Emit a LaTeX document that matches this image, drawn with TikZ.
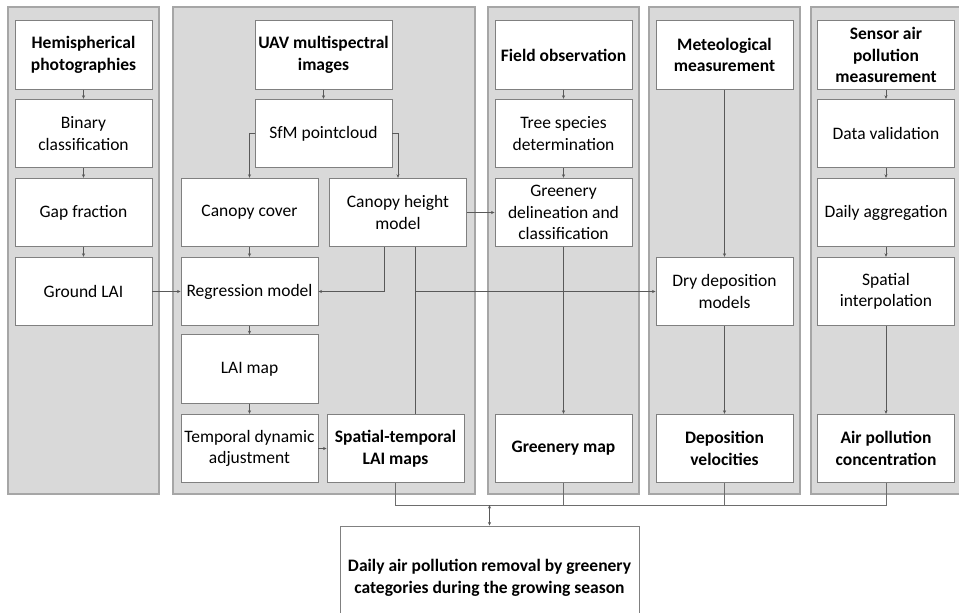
\documentclass[tikz,border=0pt]{standalone}
\usepackage{fontspec}
\setmainfont{Carlito}
\usepackage{tikz}
\usetikzlibrary{arrows.meta}

\definecolor{panelgray}{HTML}{D9D9D9}
\definecolor{panelline}{HTML}{A6A6A6}
\definecolor{boxline}{HTML}{808080}
\definecolor{arrowgray}{HTML}{595959}

\begin{document}
\begin{tikzpicture}[x=1pt,y=-1pt,
	box/.style={shape=rectangle,draw=boxline,fill=white,line width=0.9pt,minimum width=137pt,minimum height=68.5pt,inner sep=1pt,align=center,font=\fontsize{17.5}{21.5}\selectfont},
	head/.style={box,font=\fontsize{17.5}{21.5}\selectfont\bfseries},
	panel/.style={draw=panelline,fill=panelgray,line width=1.1pt},
	flow/.style={draw=arrowgray,line width=0.7pt,-{Stealth[length=3.5pt,width=3pt]}},
	bus/.style={draw=boxline!85!black,line width=0.9pt}]
	\useasboundingbox (0,0) rectangle (959,613);

	% background columns
	\path[panel] (8,7) rectangle (159,494);
	\path[panel] (173,7) rectangle (475,494);
	\path[panel] (488,7) rectangle (639,494);
	\path[panel] (649,7) rectangle (800,494);
	\path[panel] (811,7) rectangle (962,494);

	\node[head] (hemi)   at (83.5, 55)    {Hemispherical\\photographies};
	\node[box]  (binary) at (83.5, 133.5) {Binary\\classification};
	\node[box]  (gap)    at (83.5, 212.5) {Gap fraction};
	\node[box]  (glai)   at (83.5, 291.5) {Ground LAI};

	\node[head] (uav)    at (323.5, 55)    {UAV multispectral\\images};
	\node[box]  (sfm)    at (323.5, 133.5) {SfM pointcloud};
	\node[box]  (cover)  at (249.5, 212.5) {Canopy cover};
	\node[box]  (chm)    at (398, 212.5)   {Canopy height\\model};
	\node[box]  (regr)   at (249.5, 291.5) {Regression model};
	\node[box]  (laimap) at (249.5, 369)   {LAI map};
	\node[box]  (tempadj) at (249.5, 448.5) {Temporal dynamic\\adjustment};
	\node[head] (stlai)  at (395.5, 448.5) {Spatial-temporal\\LAI maps};

	\node[head] (field)  at (563.5, 55)    {Field observation};
	\node[box]  (tree)   at (563.5, 133.5) {Tree species\\determination};
	\node[box]  (green)  at (563.5, 212.5) {Greenery\\delineation and\\classification};
	\node[head] (gmap)   at (563.5, 448.5) {Greenery map};

	\node[head] (meteo)  at (724.5, 55)    {Meteological\\measurement};
	\node[box]  (dry)    at (724.5, 291.5) {Dry deposition\\models};
	\node[head] (depvel) at (724.5, 448.5) {Deposition\\velocities};

	\node[head] (sensor) at (886, 55)    {Sensor air\\pollution\\measurement};
	\node[box]  (valid)  at (886, 133.5) {Data validation};
	\node[box]  (daily)  at (886, 212.5) {Daily aggregation};
	\node[box]  (interp) at (886, 291.5) {Spatial\\interpolation};
	\node[head] (conc)   at (886, 448.5) {Air pollution\\concentration};

	\node[head,minimum width=299pt,minimum height=104pt] (removal) at (489.5, 578) {Daily air pollution removal by greenery\\categories during the growing season};
	\coordinate (join) at (489.5, 505);

	\path[flow] (hemi) edge (binary);
	\path[flow] (binary) edge (gap);
	\path[flow] (gap) edge (glai);
	\path[flow] (glai) edge (regr);

	\path[flow] (uav) edge (sfm);
	\draw[flow] (sfm.west) -| (cover.north);
	\draw[flow] (sfm.east) -| (chm.north);
	\path[flow] (cover) edge (regr);
	\path[flow] (regr) edge (laimap);
	\path[flow] (laimap) edge (tempadj);
	\path[flow] (tempadj) edge (stlai);
	\draw[flow] ([xshift=-14pt]chm.south) |- (regr.east);
	\draw[flow] ([xshift=17pt]chm.south) |- (dry.west);
	\draw[draw=arrowgray,line width=0.7pt] ([xshift=17pt]chm.south) -- ([xshift=17pt]chm.south |- stlai.north);
	\path[flow] (chm) edge (green);

	\path[flow] (field) edge (tree);
	\path[flow] (tree) edge (green);
	\path[flow] (green) edge (gmap);

	\path[flow] (meteo) edge (dry);
	\path[flow] (dry) edge (depvel);

	\path[flow] (sensor) edge (valid);
	\path[flow] (valid) edge (daily);
	\path[flow] (daily) edge (interp);
	\path[flow] (interp) edge (conc);

	\draw[bus] (stlai.south) |- (join);
	\draw[bus] (gmap.south) |- (join);
	\draw[bus] (depvel.south) |- (join);
	\draw[bus] (conc.south) |- (join);
	\path[flow] (join) edge (removal);

\end{tikzpicture}
\end{document}
